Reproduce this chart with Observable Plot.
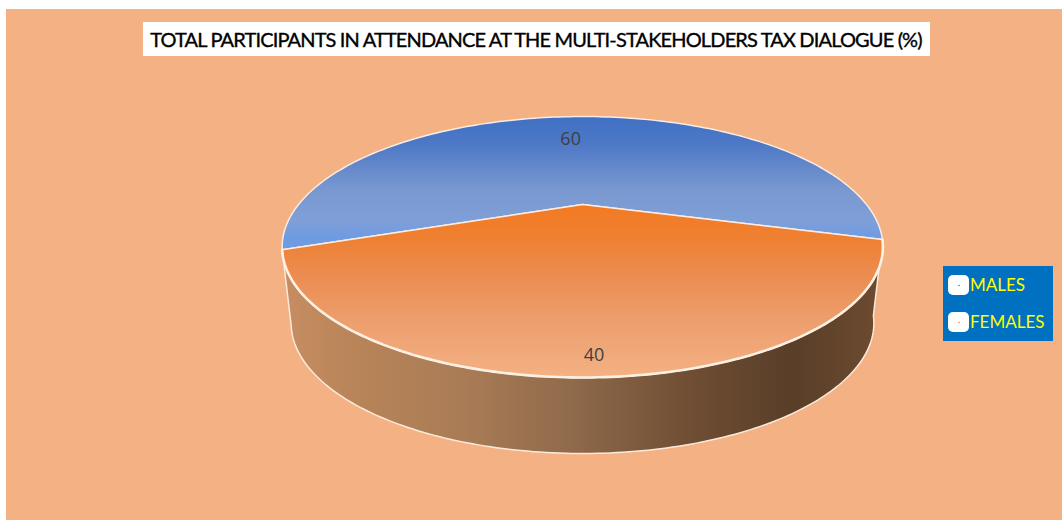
<!DOCTYPE html>
<html>
<head>
<meta charset="utf-8">
<style>
  html, body { margin: 0; padding: 0; background: #fff; }
  svg { display: block; }
</style>
<script src="https://cdn.jsdelivr.net/npm/d3@7"></script>
<script src="https://cdn.jsdelivr.net/npm/@observablehq/plot@0.6"></script>
</head>
<body>
<script>
// Chart content
const chartTitle = "TOTAL PARTICIPANTS IN ATTENDANCE AT THE MULTI-STAKEHOLDERS TAX DIALOGUE (%)";
const categories = ["MALES", "FEMALES"];
const shares = [60, 40];
const sliceFills = ["url(#maleTop)", "url(#femaleTop)"];
const keyDots = ["#4472c4", "#ed7d31"];

// Perspective view of the pie: a unit disc is tilted towards the viewer
const view = {cx: 582, halfWidth: 284, tilt: -0.3257, slope: 50.2, apexY: 204, depth: 76, baseShrink: 0.97};
const firstSliceAngle = -110.1 * Math.PI / 180;
const labelRadius = [0.69, 0.91];
const labelNudge = [-6, -2];

const W = 1062, H = 520;

function project(angle, radius = 1, base = false) {
  const X = radius * Math.sin(angle);
  const Y = -radius * Math.cos(angle);
  const w = 1 + view.tilt * Y;
  return {
    x: view.cx + view.halfWidth * (base ? view.baseShrink : 1) * X / w,
    y: (view.slope * Y + view.apexY) / w + (base ? view.depth : 0)
  };
}

const arcAngles = (a0, a1, n = 160) => d3.range(n + 1).map(i => a0 + (a1 - a0) * i / n);

const arcs = d3.pie().sort(null).startAngle(firstSliceAngle).endAngle(firstSliceAngle + 2 * Math.PI)(shares);

// One closed outline per slice: apex, then around the rim
const sliceRows = arcs.flatMap((arc, i) => {
  const rim = arcAngles(arc.startAngle, arc.endAngle).map(a => project(a));
  const apex = project(0, 0);
  return [apex, ...rim, apex].map(p => ({...p, slice: categories[i]}));
});

// The side wall belongs to the slice that faces the viewer
const front = arcs[1];
const frontRim = arcAngles(front.startAngle, front.endAngle).map(a => project(a));
const baseRim = arcAngles(front.endAngle, front.startAngle).map(a => project(a, 1, true));
const wallRows = [...frontRim, ...baseRim, frontRim[0]];

const valueLabels = arcs.map((arc, i) => {
  const p = project((arc.startAngle + arc.endAngle) / 2, labelRadius[i]);
  return {x: p.x + labelNudge[i], y: p.y, text: String(shares[i])};
});

const keyRows = categories.map((name, i) => ({name, dot: keyDots[i], y: 285 + i * 37}));

const gradient = (id, attrs, stops) =>
  `<linearGradient id="${id}" gradientUnits="userSpaceOnUse" ${attrs}>` +
  stops.map(([o, c]) => `<stop offset="${o}" stop-color="${c}"/>`).join("") +
  `</linearGradient>`;

const defs = () => d3.create("svg:defs").html(
  gradient("maleTop", 'x1="0" x2="0" y1="116" y2="250"', [
    [0, "#4070c4"], [0.2, "#4d78c6"], [0.55, "#7a98d0"], [0.78, "#7f9fd8"], [0.9, "#6f9be2"], [1, "#6f9be2"]
  ]) +
  gradient("femaleTop", 'x1="0" x2="0" y1="204" y2="377"', [
    [0, "#f37a22"], [0.2, "#ef8032"], [0.4, "#eb8c50"], [0.7, "#eda070"], [1, "#f4b183"]
  ]) +
  gradient("wallSide", 'x1="285" x2="880" y1="0" y2="0"', [
    [0, "#c68d62"], [0.12, "#b88458"], [0.3, "#a97c56"], [0.48, "#8f6a4b"], [0.68, "#6f4e34"], [0.85, "#593e28"], [1, "#6d4b30"]
  ])
).node();

const plot = Plot.plot({
  width: W,
  height: H,
  margin: 0,
  style: {background: "#fff", overflow: "hidden"},
  x: {domain: [0, W], range: [0, W], axis: null},
  y: {domain: [0, H], range: [0, H], axis: null},
  marks: [
    defs,
    // Page panel, title plate and key plate
    Plot.rect([{}], {x1: 6, x2: W, y1: 9, y2: H, fill: "#f4b183"}),
    Plot.rect([{}], {x1: 143, x2: 930, y1: 22, y2: 56, fill: "#fff"}),
    Plot.text([chartTitle], {
      x: 535.5, y: 40, text: d => d, fill: "#000", stroke: "#000", strokeWidth: 0.35, fontSize: 20,
      fontFamily: "Lato", textAnchor: "middle",
      render(index, scales, values, dims, context, next) {
        const g = next(index, scales, values, dims, context);
        d3.select(g).style("letter-spacing", "-0.85px");
        return g;
      }
    }),

    // Side wall and pie top
    Plot.line(wallRows, {x: "x", y: "y", fill: "url(#wallSide)", stroke: "#fbeadb", strokeWidth: 1.5, curve: "linear"}),
    Plot.line(sliceRows, {x: "x", y: "y", z: "slice", fill: d => d.slice === categories[0] ? sliceFills[0] : sliceFills[1],
      stroke: "#f9ece2", strokeWidth: 1.5, curve: "linear"}),
    Plot.line(frontRim, {x: "x", y: "y", stroke: "#fdf0e2", strokeWidth: 2.6, curve: "linear"}),

    // Value labels
    Plot.text(valueLabels, {x: "x", y: "y", text: "text", fill: "#404040", fontSize: 18, fontFamily: "Open Sans"}),

    // Key
    Plot.rect([{}], {x1: 943, x2: 1053, y1: 266, y2: 341, fill: "#0070c0"}),
    Plot.rect(keyRows, {x1: 948, x2: 969, y1: d => d.y - 10, y2: d => d.y + 10, fill: "#fff", rx: 5}),
    Plot.dot(keyRows, {x: 958.5, y: "y", r: 0.8, fill: "dot"}),
    Plot.text(keyRows, {x: 969.5, y: "y", text: "name", fill: "#ffff00", fontSize: 17, fontFamily: "Lato", textAnchor: "start"})
  ]
});
document.body.appendChild(plot);
</script>
</body>
</html>
